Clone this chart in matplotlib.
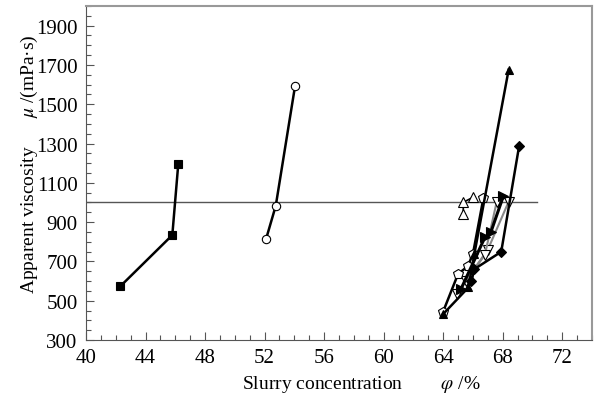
import matplotlib
matplotlib.use("Agg")
import matplotlib.pyplot as plt
from matplotlib.ticker import MultipleLocator, FixedLocator

plt.rcParams['font.family'] = ['Liberation Serif', 'DejaVu Serif']
plt.rcParams['mathtext.fontset'] = 'stix'

# Data
sq_x = [42.3, 45.8, 46.2]
sq_y = [573, 834, 1196]
ci_x = [52.1, 52.75, 54.05]
ci_y = [814, 983, 1594]
tri_x = [64.0, 65.7, 66.1, 68.4]
tri_y = [432, 568, 740, 1676]
dia_x = [65.9, 66.1, 67.9, 69.1]
dia_y = [600, 661, 749, 1286]
rt_x = [65.2, 66.8, 67.2, 68.05]
rt_y = [560, 822, 848, 1034]
dn_x = [64.9, 66.8, 67.6]
dn_y = [534, 733, 1004]
pent_x = [64.0, 65.0, 65.65, 66.0, 66.7]
pent_y = [445, 636, 675, 738, 1021]
otri_x = [65.35, 65.35, 66.0]
otri_y = [941, 1001, 1026]
gdn_x = [65.5, 67.0, 68.4]
gdn_y = [600, 760, 1004]
ref_level = 1000
ref_x = [40, 70.3]

xticks = [40, 44, 48, 52, 56, 60, 64, 68, 72]
yticks = [300, 500, 700, 900, 1100, 1300, 1500, 1700, 1900]

fig = plt.figure(figsize=(6.01, 4.02), dpi=100)
ax = fig.add_axes([86/601, 1-341/402, (592-86)/601, (341-7)/402])

ax.plot(ref_x, [ref_level, ref_level], color='#555555', lw=1.0, zorder=1)

def s(x, y, m, fc, lc='black', ms=6, lw=1.8):
    ax.plot(x, y, color=lc, lw=lw, marker=m, ms=ms, mfc=fc, mec='black', mew=0.8, zorder=3)

s(sq_x, sq_y, 's', 'black', ms=6)
s(ci_x, ci_y, 'o', 'white', ms=6)
s(gdn_x, gdn_y, 'v', 'white', lc='#888888', ms=7, lw=1.5)
s(dn_x, dn_y, 'v', 'white', lc='#888888', ms=7, lw=1.5)
s(pent_x, pent_y, 'p', 'white', ms=7, lw=1.8)
s(otri_x, otri_y, '^', 'white', ms=7, lw=1.2)
s(dia_x, dia_y, 'D', 'black', ms=5)
s(rt_x, rt_y, '>', 'black', ms=7, lw=2.2)
s(tri_x, tri_y, '^', 'black', ms=6)

ax.set_xlim(40, 74)
ax.set_ylim(300, 2000)
ax.xaxis.set_major_locator(FixedLocator(xticks))
ax.xaxis.set_minor_locator(MultipleLocator(1))
ax.yaxis.set_major_locator(FixedLocator(yticks))
ax.yaxis.set_minor_locator(MultipleLocator(50))
ax.tick_params(which='both', direction='in', top=False, right=False,
               labelsize=15, color='#555555', pad=6)
ax.tick_params(which='major', length=6, width=0.8)
ax.tick_params(which='minor', length=3.5, width=0.8)

for side in ['left', 'bottom']:
    ax.spines[side].set_color('#555555')
for side in ['top', 'right']:
    ax.spines[side].set_color('#999999')
    ax.spines[side].set_linewidth(1.5)

ax.set_xlabel('Slurry concentration        ' + r'$\varphi$ /%', fontsize=14)
ax.set_ylabel('Apparent viscosity      ' + r'$\mu$ /(mPa·s)', fontsize=14)
ax.xaxis.set_label_coords(0.544, -0.098)
ax.yaxis.set_label_coords(-0.091, 0.53)

fig.savefig('out.png', dpi=100)
